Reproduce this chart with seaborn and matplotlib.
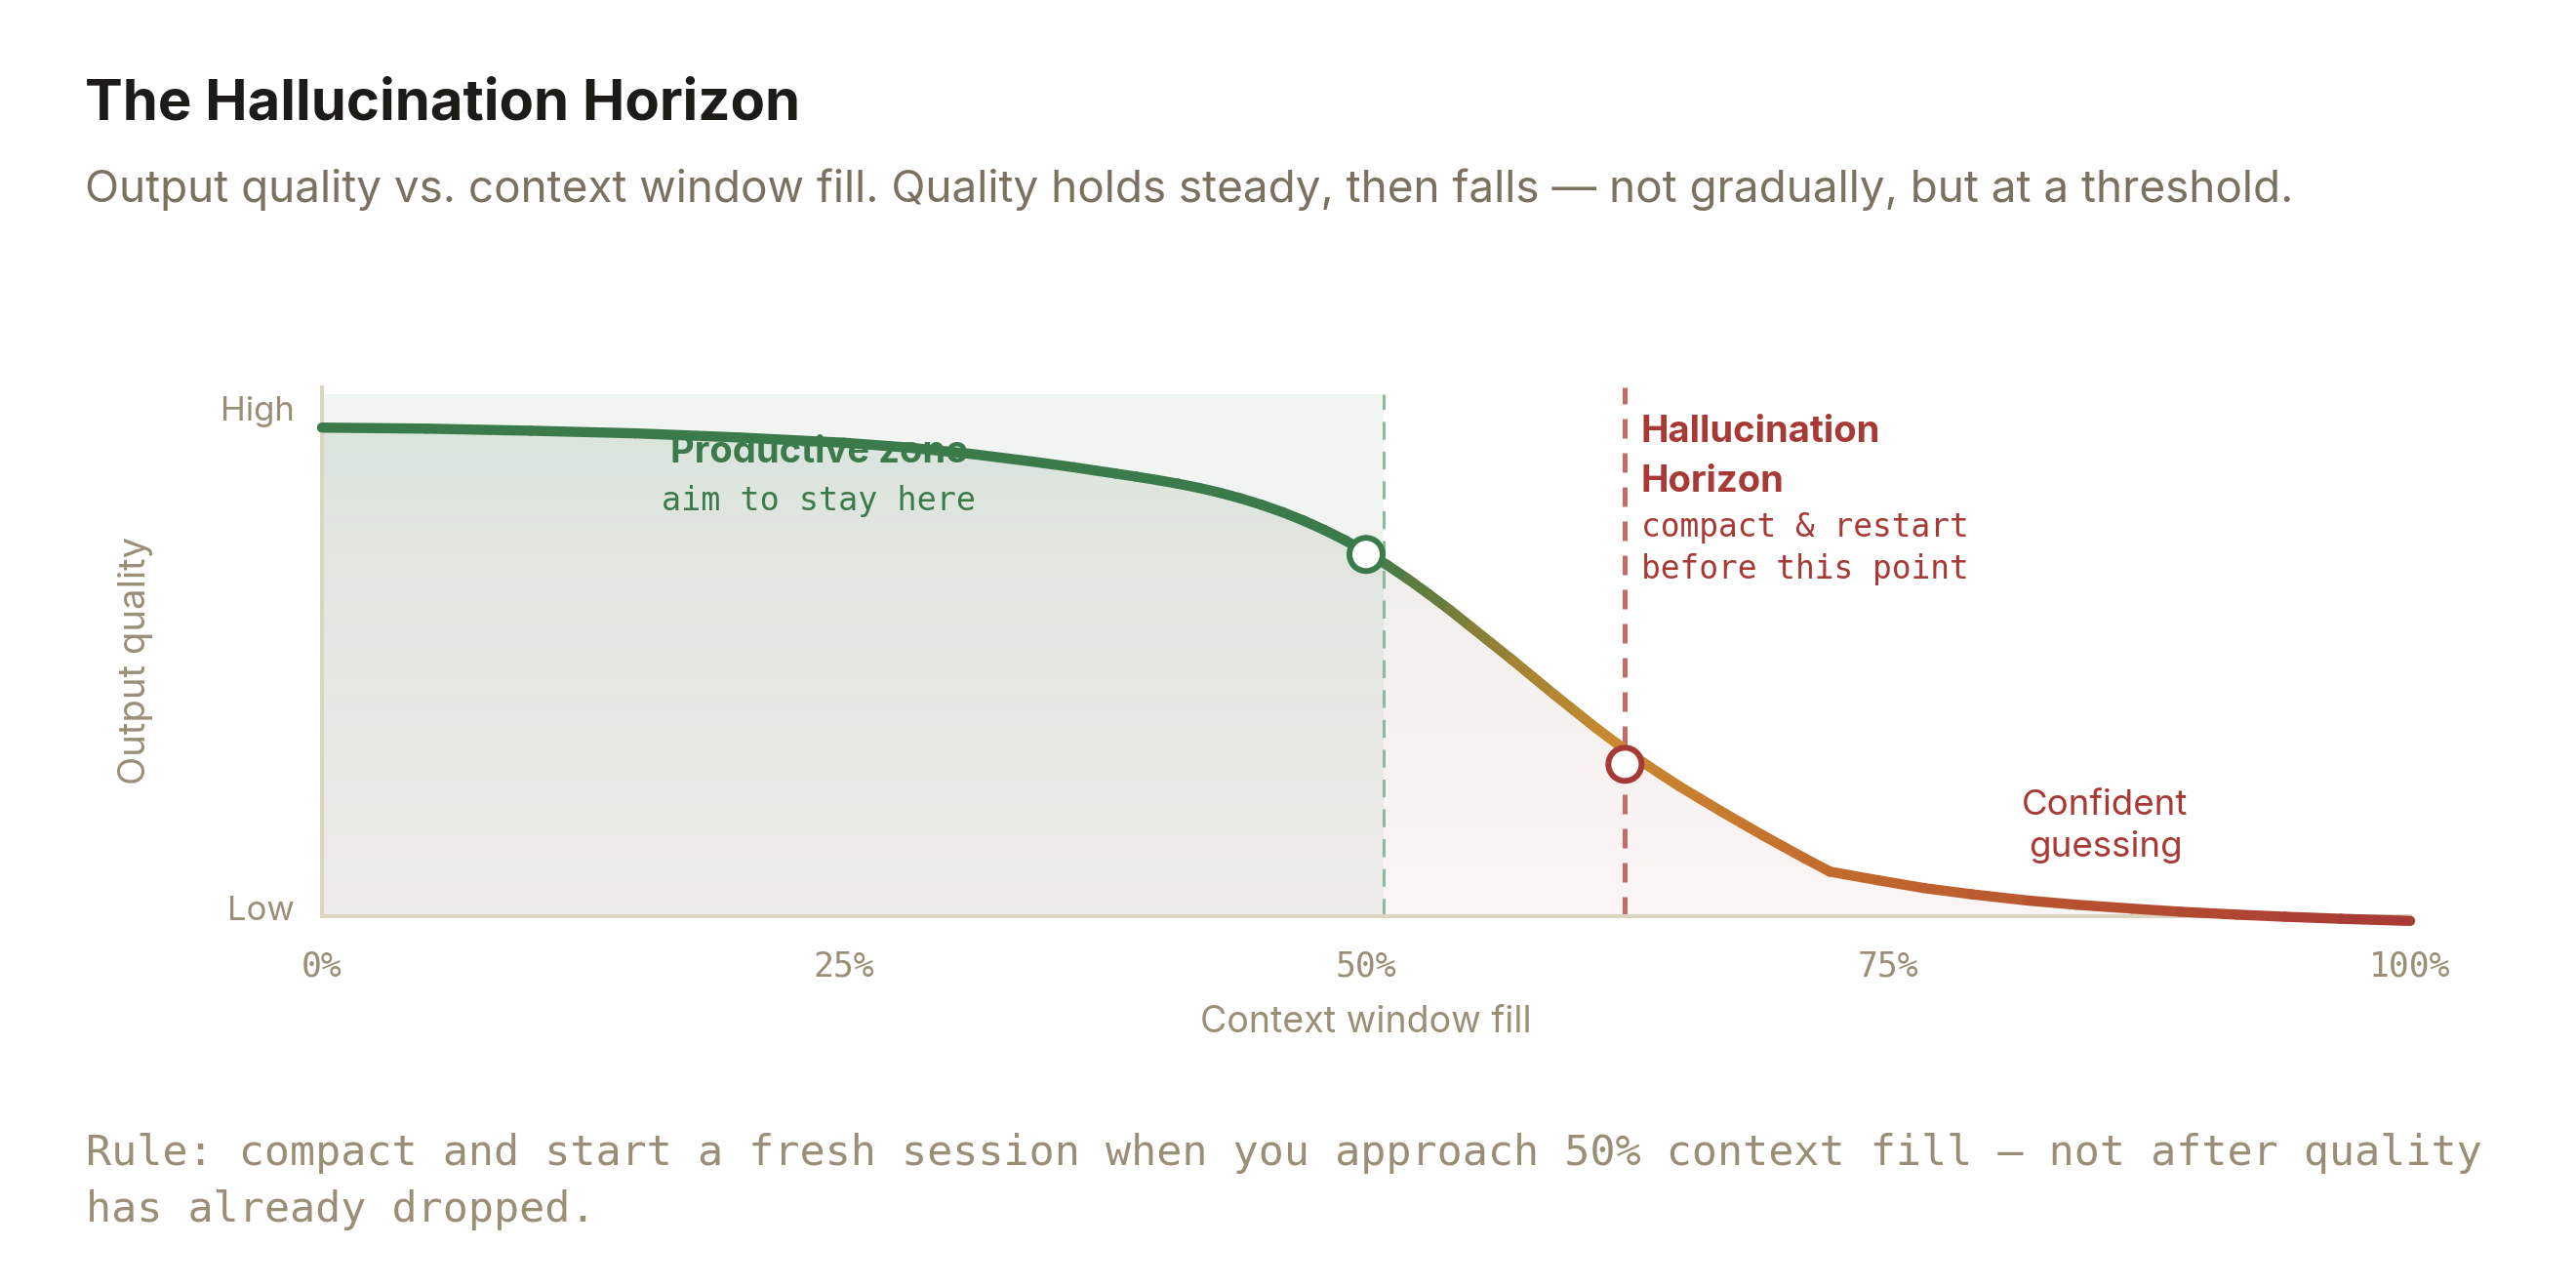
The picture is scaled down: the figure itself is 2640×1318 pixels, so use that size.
import numpy as np
import matplotlib
matplotlib.use("Agg")
import matplotlib.pyplot as plt
import seaborn as sns
from matplotlib.collections import LineCollection
from matplotlib.colors import to_rgba, LinearSegmentedColormap

# curve (x = % of context filled, y = quality 0..1)
fill_pct = [0, 5, 10, 15, 20, 25, 28, 31, 34, 36, 37, 38, 39, 40, 41, 42, 43,
            44, 45, 46, 47, 48, 49, 50, 51, 52, 53, 54, 55, 56, 57, 58, 59,
            60, 61, 62, 63, 64, 65, 66, 67, 68, 69, 70, 71, 72, 72.2, 74.5,
            76.7, 79, 81.7, 84, 86.7, 89, 91.7, 94, 96.7, 100]
quality = [0.936, 0.934, 0.930, 0.925, 0.917, 0.907, 0.898, 0.886, 0.871,
           0.860, 0.854, 0.848, 0.842, 0.8355, 0.8285, 0.8205, 0.8112, 0.8004,
           0.788, 0.774, 0.758, 0.740, 0.720, 0.697, 0.673, 0.646, 0.617,
           0.587, 0.555, 0.523, 0.491, 0.458, 0.425, 0.393, 0.361, 0.331,
           0.302, 0.275, 0.249, 0.225, 0.201, 0.178, 0.155, 0.133, 0.111,
           0.090, 0.0855, 0.069, 0.054, 0.042, 0.030, 0.022, 0.0145, 0.0085,
           0.003, -0.001, -0.005, -0.009]

marker_pct = [50, 62.4]
marker_quality = [0.693, 0.291]

zone_end = 50.86
horizon_pct = 62.4

tick_pct = [0, 25, 50, 75, 100]
tick_labels = ["0%", "25%", "50%", "75%", "100%"]
level_ticks = [0.015, 0.972]
level_labels = ["Low", "High"]

GREEN = "#3b7a4b"
RED = "#a83a36"
TAN = "#9b8e76"
SUB = "#7b7160"
MONO = "DejaVu Sans Mono"

sns.set_theme(style="white")
plt.rcParams["font.family"] = ["Inter", "DejaVu Sans"]

W, H = 2640, 1318
fig = plt.figure(figsize=(W / 100, H / 100), dpi=100)
fig.patch.set_facecolor("white")


def fx(px):
    return px / W


def fy(py):
    return 1 - py / H


ytop = 542 / 535
ax = fig.add_axes([fx(330), fy(939), 2140 / W, 542 / H])
ax.set_facecolor("white")

x = np.array(fill_pct)
q = np.array(quality)

# gradient fill under the curve
poly = ax.fill_between(x, q, 0, color="none", lw=0)
top = np.array(to_rgba(GREEN, 0.13))
bot = np.array(to_rgba("#b0403a", 0.05))
t = np.linspace(0, 1, 256)[:, None]
grad = top * (1 - t) + bot * t
img = ax.imshow(grad[:, None, :], extent=[0, 100, 0, 1], aspect="auto",
                origin="upper", zorder=1, interpolation="bilinear")
img.set_clip_path(poly.get_paths()[0], transform=ax.transData)

# productive zone
ax.axvspan(0, zone_end, ymin=0, ymax=1 / ytop, color=GREEN, alpha=0.075, lw=0, zorder=0.5)
ax.axvline(zone_end, ymin=0, ymax=1 / ytop, color="#8fb99c", lw=2.2, dashes=(6, 4), zorder=2)
ax.axvline(horizon_pct, color="#c56b69", lw=3.6, dashes=(4, 3), zorder=2)

# the curve, coloured along x
pts = np.column_stack([x, q])
segs = np.stack([pts[:-1], pts[1:]], axis=1)
mid = (x[:-1] + x[1:]) / 2
cmap = LinearSegmentedColormap.from_list("qual", [
    (0.0, GREEN), (0.50, GREEN), (0.54, "#6f7d3b"), (0.58, "#a98433"),
    (0.62, "#c98a2f"), (0.72, "#c46c2e"), (0.85, "#b5502f"), (1.0, "#a83a36")])
lc = LineCollection(segs, colors=cmap(mid / 100), linewidths=7.5,
                    capstyle="round", joinstyle="round", zorder=4)
lc.set_clip_on(False)
ax.add_collection(lc)

sns.scatterplot(x=marker_pct, y=marker_quality, s=600, color="white",
                edgecolor=[GREEN, RED], linewidth=4.3, zorder=5, ax=ax,
                legend=False, clip_on=False)

ax.set_xlim(0, 100)
ax.set_ylim(0, ytop)

for side in ["top", "right"]:
    ax.spines[side].set_visible(False)
for side in ["left", "bottom"]:
    ax.spines[side].set_color("#ddd4c0")
    ax.spines[side].set_linewidth(2.9)

ax.set_xticks(tick_pct)
ax.set_xticklabels(tick_labels, fontfamily=MONO, fontsize=25, color=TAN)
ax.set_yticks(level_ticks)
ax.set_yticklabels(level_labels, fontsize=25, color=TAN)
ax.tick_params(axis="x", length=0, pad=25)
ax.tick_params(axis="y", length=0, pad=20)

ax.set_xlabel("Context window fill", fontsize=27, color=TAN, labelpad=16)
ax.set_ylabel("Output quality", fontsize=27.5, color=TAN)
ax.yaxis.set_label_coords(-0.081, 0.483)

# annotations
ax.text(23.8, 0.870, "Productive zone", fontsize=27.5, fontweight="bold",
        color=GREEN, ha="center", va="baseline", zorder=3)
ax.text(23.8, 0.777, "aim to stay here", fontsize=24, fontfamily=MONO,
        color=GREEN, ha="center", va="baseline", zorder=3)
ax.text(63.16, 0.908, "Hallucination", fontsize=27.5, fontweight="bold",
        color=RED, ha="left", va="baseline", zorder=3)
ax.text(63.16, 0.814, "Horizon", fontsize=27.5, fontweight="bold",
        color=RED, ha="left", va="baseline", zorder=3)
ax.text(63.16, 0.728, "compact & restart", fontsize=23.6, fontfamily=MONO,
        color=RED, ha="left", va="baseline", zorder=3)
ax.text(63.16, 0.647, "before this point", fontsize=23.6, fontfamily=MONO,
        color=RED, ha="left", va="baseline", zorder=3)
ax.text(85.4, 0.194, "Confident", fontsize=26.4, color=RED, ha="center",
        va="baseline", zorder=3)
ax.text(85.4, 0.114, "guessing", fontsize=26.4, color=RED, ha="center",
        va="baseline", zorder=3)

fig.text(fx(87), fy(122.7), "The Hallucination Horizon", fontsize=41.8,
         fontweight="bold", color="#1c1b18", va="baseline")
fig.text(fx(87), fy(206.7),
         "Output quality vs. context window fill. Quality holds steady, then falls \u2014 not gradually, but at a threshold.",
         fontsize=33, color=SUB, va="baseline")
fig.text(fx(88), fy(1194),
         "Rule: compact and start a fresh session when you approach 50% context fill \u2014 not after quality",
         fontsize=31.2, fontfamily=MONO, color=TAN, va="baseline")
fig.text(fx(88), fy(1251.7), "has already dropped.", fontsize=31.2,
         fontfamily=MONO, color=TAN, va="baseline")

fig.savefig("out.png", dpi=100, facecolor="white")
